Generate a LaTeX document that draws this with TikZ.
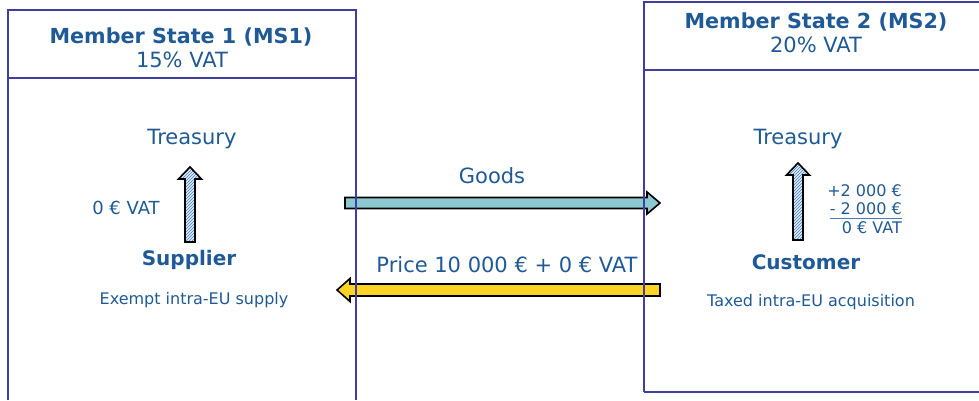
\documentclass[tikz,border=0pt]{standalone}
\usepackage{fontspec}
\setmainfont{DejaVu Sans}
\usetikzlibrary{patterns}
\definecolor{txtblue}{HTML}{1F5A96}
\definecolor{boxline}{HTML}{3F3F9F}
\definecolor{goodsfill}{HTML}{8CC8CF}
\definecolor{pricefill}{HTML}{FFD324}
\definecolor{hatchbg}{HTML}{DDEBF7}
\definecolor{hatchline}{HTML}{4A7EBB}
\tikzset{
  lbl/.style={text=txtblue, inner sep=0pt, font=\fontsize{21}{24}\selectfont},
  ttl/.style={text=txtblue, inner sep=0pt, font=\fontsize{20.7}{24}\selectfont\bfseries},
  sub/.style={text=txtblue, inner sep=0pt, font=\fontsize{21}{24}\selectfont},
  small/.style={text=txtblue, inner sep=0pt, font=\fontsize{16}{18}\selectfont},
  role/.style={text=txtblue, inner sep=0pt, font=\fontsize{20}{24}\selectfont\bfseries},
  statebox/.style={draw=boxline, line width=1.3pt},
  blockarrow/.style={draw=black, line width=1.6pt, line join=miter},
  hatched/.style={blockarrow, preaction={fill=hatchbg}, pattern=north east lines, pattern color=hatchline},
}
\begin{document}
\begin{tikzpicture}[x=1pt,y=-1pt]
\useasboundingbox (0,0) rectangle (979,400);
% arrows
\draw[blockarrow, fill=goodsfill] (345,197.5) -- (647,197.5) -- (647,192) -- (660,203) -- (647,214) -- (647,208.5) -- (345,208.5) -- cycle;
\draw[blockarrow, fill=pricefill] (660,284) -- (350,284) -- (350,278.5) -- (337,290) -- (350,301.5) -- (350,296) -- (660,296) -- cycle;
% state boxes
\draw[statebox] (8,400) -- (8,10) -- (356,10) -- (356,400);
\draw[statebox] (8,78) -- (356,78);
\draw[statebox] (644,392) -- (644,2) -- (979,2);
\draw[statebox] (644,392) -- (979,392);
\draw[statebox] (644,70) -- (979,70);
% titles
\node[ttl] (t1) at (181,37) {Member State 1 (MS1)};
\node[sub] (s1) at (182,60) {15\% VAT};
\node[ttl] (t2) at (816,22) {Member State 2 (MS2)};
\node[sub] (s2) at (816,45) {20\% VAT};
% left side
\node[lbl] (tr1) at (192,139) {Treasury};
\draw[hatched] (185,242) -- (185,179) -- (178.5,179) -- (190,167) -- (201.5,179) -- (195,179) -- (195,242) -- cycle;
\node[small, font=\fontsize{18}{20}\selectfont] (v1) at (126,208) {0 € VAT};
\node[role] (sup) at (189,260) {Supplier};
\node[small] (ex) at (194,300) {Exempt intra-EU supply};
% right side
\node[lbl] (tr2) at (798,139) {Treasury};
\draw[hatched] (793,240) -- (793,175) -- (786.5,175) -- (798,163) -- (809.5,175) -- (803,175) -- (803,240) -- cycle;
\node[small, anchor=east] (p1) at (902,191) {+2 000 €};
\node[small, anchor=east] (m1) at (902,209) {- 2 000 €};
\draw[hatchline, line width=1pt] (830,218) -- (902,218);
\node[small, anchor=east] (v2) at (902,228) {0 € VAT};
\node[role] (cus) at (806,262) {Customer};
\node[small] (tx) at (811,302) {Taxed intra-EU acquisition};
% arrow labels
\node[lbl] (gd) at (492,176) {Goods};
\node[lbl] (pr) at (507,265) {Price 10 000 € + 0 € VAT};
\end{tikzpicture}
\end{document}
